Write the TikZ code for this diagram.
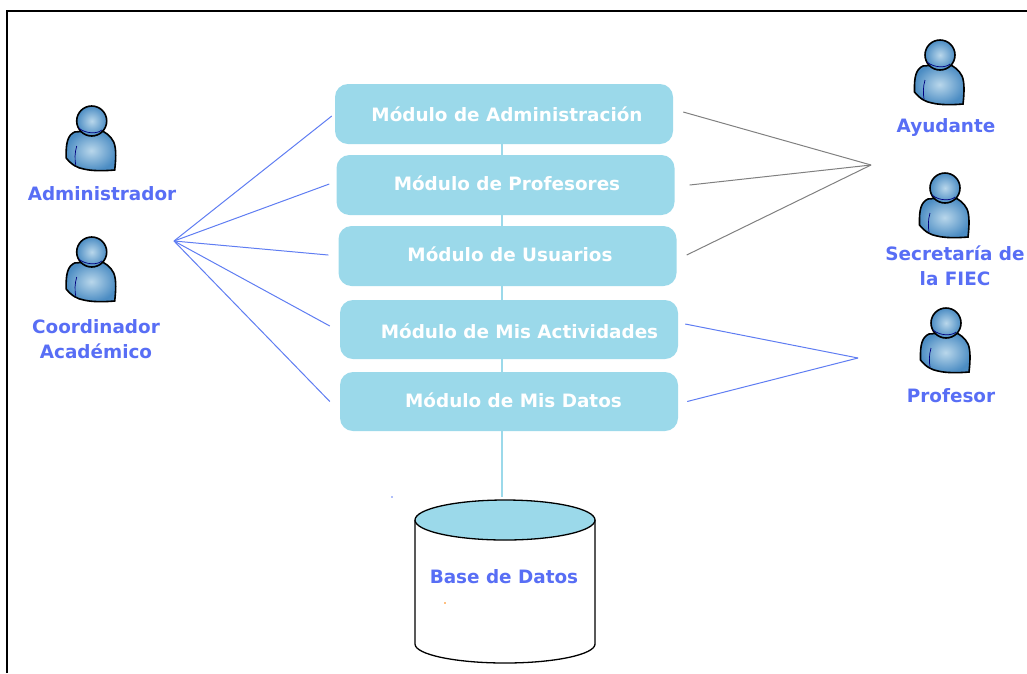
\documentclass[tikz,border=0pt]{standalone}
\usepackage{fontspec}
\setmainfont{DejaVu Sans}
\definecolor{modfill}{RGB}{155,217,234}
\definecolor{txtblue}{RGB}{88,110,245}
\definecolor{lineblue}{RGB}{95,125,242}
\definecolor{bodyin}{RGB}{185,215,235}
\definecolor{bodyout}{RGB}{75,140,195}
\tikzset{
  modulo/.style={rounded corners=13pt,fill=modfill,minimum width=338pt,minimum height=60pt,inner sep=0pt},
  modtxt/.style={text=white,inner sep=0pt,font=\bfseries\fontsize{18.4}{22}\selectfont},
  rol/.style={text=txtblue,align=center,inner sep=0pt,font=\bfseries\fontsize{18.4}{25}\selectfont},
  azul/.style={draw=lineblue,line width=1pt},
  gris/.style={draw=gray,line width=1pt},
  enlace/.style={draw=modfill,line width=1.2pt},
  actor/.pic={
    \path[draw=black,line width=1.6pt,inner color=bodyin,outer color=bodyout] (-17,11) .. controls (-24,14) and (-26,22) .. (-25.5,37) .. controls (-20,44) and (-14,47) .. (-8,48) .. controls (0,50) and (12,50) .. (23,49) .. controls (24,40) and (25,28) .. (22,21) .. controls (19,15) and (14,11) .. (8,9) -- cycle;
    \draw[draw=black!50!blue,line width=0.7pt] (-15,25) .. controls (-17,32) and (-17,38) .. (-16,44);
    \path[draw=black,line width=1.6pt,inner color=bodyin,outer color=bodyout] (0,0) circle (15);
    \draw[draw=black!50!blue,line width=0.7pt] (-13,7) .. controls (-6,13) and (6,13) .. (10,9);
  }
}
\begin{document}
\begin{tikzpicture}[x=1pt,y=-1pt]
\useasboundingbox (0,0) rectangle (1027,673);
\draw[line width=1.5pt] (7,673) -- (7,11) -- (1027,11);

\pic at (91.7,121) {actor};
\pic at (91.7,252) {actor};
\pic at (940,55) {actor};
\pic at (945,188) {actor};
\pic at (946,323) {actor};

\node[rol] (admin) at (102,193.5) {Administrador};
\node[rol] (coord) at (96,339.5) {Coordinador\\Académico};
\node[rol] (ayud) at (946,127.5) {Ayudante};
\node[rol] (secre) at (955,265.5) {Secretaría de\\la FIEC\hspace{20pt}};
\node[rol] (prof) at (951,395.5) {Profesor};

\node[modulo] (madmin) at (504,114) {};
\node[modulo] (mprof) at (505.5,185) {};
\node[modulo] (musu) at (507.5,256) {};
\node[modulo,minimum height=59pt] (mact) at (509,329.5) {};
\node[modulo,minimum height=59pt] (mdat) at (509,401.5) {};
\node[modtxt] (tadmin) at (507,114) {Módulo de Administración};
\node[modtxt] (tprof) at (507,183) {Módulo de Profesores};
\node[modtxt] (tusu) at (510,254) {Módulo de Usuarios};
\node[modtxt] (tact) at (519.5,331) {Módulo de Mis Actividades};
\node[modtxt] (tdat) at (513.5,400) {Módulo de Mis Datos};

% base de datos
\draw[line width=1.3pt,fill=white] (415,520) -- (415,644) arc (180:0:90 and 19) -- (595,520);
\draw[line width=1.3pt,fill=modfill] (505,520) ellipse (90 and 20);
\node[rol] (db) at (504,577) {Base de Datos};
\coordinate (dbtop) at (502,497);

\coordinate (spine) at (502,0);
\coordinate (hubizq) at (174,241);
\coordinate (hubder) at (871,165);
\coordinate (hubprof) at (858,358);

\foreach \a/\b in {madmin/mprof,mprof/musu,musu/mact,mact/mdat}
  \draw[enlace] (spine |- \a.south) -- (spine |- \b.north);
\draw[enlace] (spine |- mdat.south) -- (dbtop);

\draw[azul] (hubizq) -- ([xshift=-3pt,yshift=-2pt]madmin.west);
\draw[azul] (hubizq) -- ([xshift=-7pt,yshift=1pt]mprof.west);
\draw[azul] (hubizq) -- ([xshift=-10pt,yshift=1pt]musu.west);
\draw[azul] (hubizq) -- ([xshift=-10pt,yshift=3.5pt]mact.west);
\draw[azul] (hubizq) -- ([xshift=-10pt]mdat.west);

\draw[gris] (hubder) -- ([xshift=10pt,yshift=2pt]madmin.east);
\draw[gris] (hubder) -- ([xshift=15pt]mprof.east);
\draw[gris] (hubder) -- ([xshift=10pt,yshift=1pt]musu.east);

\draw[azul] (hubprof) -- ([xshift=7pt,yshift=5.5pt]mact.east);
\draw[azul] (hubprof) -- ([xshift=9pt]mdat.east);

\fill[lineblue] (392,497) circle (0.8);
\fill[orange] (445,603) circle (0.8);
\end{tikzpicture}
\end{document}
